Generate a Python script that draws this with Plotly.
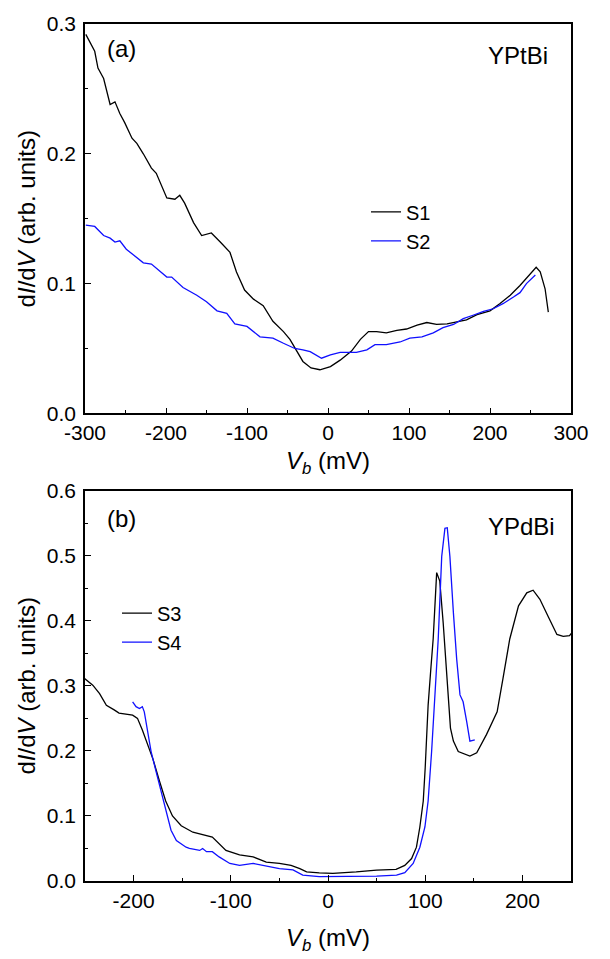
import plotly.graph_objects as go

# ---- data ----
s1_v = [-299,-288,-284,-277,-269,-263,-257,-251,-242,-236,-228,-218,-212,-199,-189,-183,-177,-166,-156,-144,-133,-121,-113,-103,-92,-80,-68,-55,-47,-39,-31,-21,-10,3,15,29,40,50,60,72,85,97,110,122,134,147,159,171,184,200,212,225,237,249,257,262,268,272]
s1_g = [0.292,0.279,0.266,0.258,0.238,0.240,0.231,0.224,0.212,0.208,0.200,0.189,0.185,0.166,0.165,0.168,0.162,0.147,0.137,0.139,0.132,0.124,0.109,0.095,0.088,0.083,0.071,0.063,0.057,0.048,0.040,0.035,0.0336,0.036,0.041,0.048,0.057,0.063,0.063,0.062,0.064,0.065,0.068,0.070,0.0685,0.069,0.0705,0.072,0.076,0.079,0.0845,0.091,0.0985,0.1066,0.1125,0.109,0.096,0.078]

s2_v = [-299,-288,-277,-269,-263,-257,-249,-236,-228,-218,-207,-199,-193,-179,-162,-150,-137,-125,-115,-100,-84,-68,-55,-41,-31,-22,-8,3,15,35,48,58,72,89,101,116,130,142,155,167,179,192,204,216,229,237,245,256]
s2_g = [0.145,0.144,0.137,0.135,0.132,0.133,0.1265,0.120,0.116,0.115,0.109,0.105,0.105,0.097,0.091,0.086,0.079,0.077,0.069,0.067,0.059,0.058,0.054,0.050,0.049,0.0476,0.0425,0.045,0.047,0.047,0.049,0.053,0.053,0.055,0.058,0.059,0.062,0.066,0.0685,0.073,0.0756,0.0786,0.0806,0.0845,0.0896,0.093,0.100,0.1066]

s3_v = [-252,-242,-235,-228,-220,-215,-201,-196,-191,-185.5,-180,-173.5,-167,-160,-151,-139,-125,-119,-105,-91,-77,-63.5,-50,-38,-29,-22,-9,5,29,50,70,79,86,91,94.5,98,100,101.5,103,106,108.2,111.8,115,118.5,122,124.7,126,129,134,146,153,163,174,180,187,196,204.5,211,218,227,235.5,242,248.5,251]
s3_g = [0.313,0.301,0.288,0.270,0.263,0.258,0.255,0.250,0.232,0.210,0.187,0.154,0.123,0.100,0.085,0.075,0.070,0.0675,0.047,0.040,0.037,0.029,0.027,0.024,0.019,0.014,0.0126,0.0117,0.014,0.0167,0.018,0.024,0.0345,0.052,0.083,0.123,0.174,0.225,0.27,0.33,0.372,0.474,0.461,0.397,0.321,0.260,0.235,0.215,0.199,0.192,0.197,0.225,0.26,0.311,0.372,0.423,0.443,0.447,0.433,0.405,0.379,0.376,0.377,0.382]

s4_v = [-201,-197.5,-194,-191,-189,-185.5,-182,-177,-170,-165,-161.5,-156,-151,-146,-142.6,-132,-129,-125,-119,-112,-101,-91,-77,-63.5,-50,-36,-26,-9,5,50,70.5,79,87.6,94.5,99.7,103,106.6,109.5,113.4,117,120.3,122.7,125.4,129,132.4,135.8,139,142.7,146,151]
s4_g = [0.2755,0.268,0.265,0.268,0.260,0.232,0.199,0.169,0.128,0.100,0.078,0.062,0.057,0.052,0.050,0.047,0.050,0.045,0.045,0.037,0.027,0.024,0.027,0.023,0.019,0.017,0.009,0.0066,0.0066,0.0076,0.009,0.0127,0.027,0.052,0.083,0.123,0.199,0.27,0.372,0.499,0.542,0.543,0.499,0.4125,0.341,0.286,0.2755,0.245,0.215,0.217]

top_xticks = [-300, -200, -100, 0, 100, 200, 300]
top_xlabels = ["-300", "-200", "-100", "0", "100", "200", "300"]
bot_xticks = [-200, -100, 0, 100, 200]
bot_xlabels = ["-200", "-100", "0", "100", "200"]

BLACK = "#000000"
BLUE = "#1010ff"
FONT = "Liberation Sans, Arial, sans-serif"

W, H = 610, 959
ML, MR, MT, MB = 85, 39, 16, 78
PW = W - ML - MR
PH = H - MT - MB

def px(x):
    return (x - ML) / PW

def py(y):
    return (H - MB - y) / PH

fig = go.Figure()
fig.add_trace(go.Scatter(x=s1_v, y=s1_g, mode="lines", name="S1", line=dict(color=BLACK, width=1.3), xaxis="x", yaxis="y", legend="legend"))
fig.add_trace(go.Scatter(x=s2_v, y=s2_g, mode="lines", name="S2", line=dict(color=BLUE, width=1.3), xaxis="x", yaxis="y", legend="legend"))
fig.add_trace(go.Scatter(x=s3_v, y=s3_g, mode="lines", name="S3", line=dict(color=BLACK, width=1.3), xaxis="x2", yaxis="y2", legend="legend2"))
fig.add_trace(go.Scatter(x=s4_v, y=s4_g, mode="lines", name="S4", line=dict(color=BLUE, width=1.3), xaxis="x2", yaxis="y2", legend="legend2"))

axis_common = dict(
    showline=True, linecolor="black", linewidth=1.5, mirror=True,
    ticks="inside", ticklen=6, tickwidth=1.2, tickcolor="black",
    showgrid=False, zeroline=False,
    tickfont=dict(family=FONT, size=21, color="black"),
    title_font=dict(family=FONT, size=24, color="black"),
)
minor = dict(ticks="inside", ticklen=3.5, tickwidth=1.2, tickcolor="black", showgrid=False)

top_dom = [py(409), 1.0]
bot_dom = [0.0, py(487)]

ytitle = "d<i>I</i>/d<i>V</i> (arb. units)"
xtitle = "<i>V</i><sub><i>b</i></sub> (mV)"

fig.update_layout(
    width=W, height=H,
    margin=dict(l=ML, r=MR, t=MT, b=MB),
    paper_bgcolor="white", plot_bgcolor="white",
    font=dict(family=FONT, color="black"),
    xaxis=dict(range=[-300, 300], tickvals=top_xticks, ticktext=top_xlabels, domain=[0, 1], anchor="y",
               minor=dict(dtick=50, **minor),
               title=dict(text=xtitle, standoff=9), **axis_common),
    yaxis=dict(range=[0, 0.3], dtick=0.1, tickformat=".1f", domain=top_dom, anchor="x",
               minor=dict(dtick=0.05, **minor), ticklabelstandoff=3,
               title=dict(text=ytitle, standoff=4), **axis_common),
    xaxis2=dict(range=[-250, 250], tickvals=bot_xticks, ticktext=bot_xlabels, domain=[0, 1], anchor="y2",
                minor=dict(dtick=50, **minor),
                title=dict(text=xtitle, standoff=18), **axis_common),
    yaxis2=dict(range=[0, 0.6], dtick=0.1, tickformat=".1f", domain=bot_dom, anchor="x2",
                minor=dict(dtick=0.05, **minor), ticklabelstandoff=3,
                title=dict(text=ytitle, standoff=4), **axis_common),
    legend=dict(x=px(366), y=py(186), xanchor="left", yanchor="top",
                bgcolor="rgba(0,0,0,0)", font=dict(family=FONT, size=20),
                tracegroupgap=0, itemwidth=30),
    legend2=dict(x=px(117), y=py(591), xanchor="left", yanchor="top",
                 bgcolor="rgba(0,0,0,0)", font=dict(family=FONT, size=20),
                 tracegroupgap=0, itemwidth=30),
    showlegend=True,
)

ann_font = dict(family=FONT, size=24, color="black")
fig.add_annotation(text="(a)", x=px(105), y=py(41), xref="paper", yref="paper",
                   xanchor="left", yanchor="middle", showarrow=False, font=ann_font)
fig.add_annotation(text="YPtBi", x=px(550), y=py(48), xref="paper", yref="paper",
                   xanchor="right", yanchor="middle", showarrow=False, font=ann_font)
fig.add_annotation(text="(b)", x=px(105), y=py(515), xref="paper", yref="paper",
                   xanchor="left", yanchor="middle", showarrow=False, font=ann_font)
fig.add_annotation(text="YPdBi", x=px(557), y=py(523), xref="paper", yref="paper",
                   xanchor="right", yanchor="middle", showarrow=False, font=ann_font)

fig.write_html("out.html")
